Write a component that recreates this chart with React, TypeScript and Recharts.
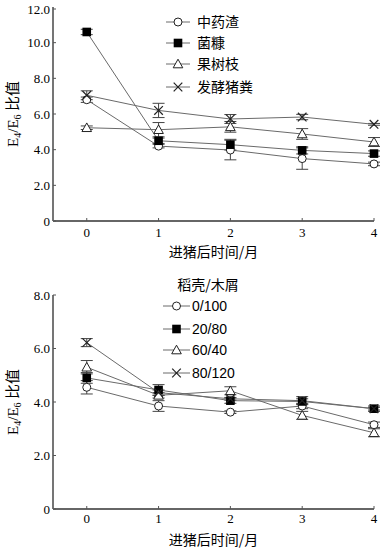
import { ComposedChart, Line, XAxis, YAxis, ErrorBar, Label } from "recharts";

// 进猪后时间（月）
const months = [0, 1, 2, 3, 4];
const monthTicks = [0, 1, 2, 3, 4];

// 上图：不同辅料
const zhongyaozha = [6.8, 4.2, 3.98, 3.5, 3.2];
const zhongyaozhaErr = [0.15, 0.1, 0.55, 0.6, 0.1];
const junkang = [10.6, 4.5, 4.28, 3.96, 3.78];
const junkangErr = [0.15, 0.15, 0.3, 0.2, 0.15];
const guoshuzhi = [5.23, 5.12, 5.28, 4.88, 4.43];
const guoshuzhiErr = [0.1, 0.4, 0.3, 0.3, 0.25];
const fajiaozhufen = [7.05, 6.2, 5.72, 5.83, 5.42];
const fajiaozhufenErr = [0.25, 0.4, 0.25, 0.15, 0.05];
const topTicks = [0, 2, 4, 6, 8, 10, 12];

// 下图：稻壳/木屑 比例
const r0_100 = [4.55, 3.85, 3.62, 3.85, 3.15];
const r0_100Err = [0.25, 0.2, 0.05, 0.1, 0.1];
const r20_80 = [4.9, 4.45, 4.05, 4.02, 3.75];
const r20_80Err = [0.2, 0.2, 0.1, 0.1, 0.1];
const r60_40 = [5.3, 4.25, 4.42, 3.5, 2.85];
const r60_40Err = [0.25, 0.1, 0.15, 0.15, 0.15];
const r80_120 = [6.22, 4.35, 4.12, 4.05, 3.75];
const r80_120Err = [0.15, 0.1, 0.05, 0.15, 0.05];
const bottomTicks = [0, 2, 4, 6, 8];

const SERIF = '"Liberation Serif", "Times New Roman", "Noto Sans CJK SC", serif';
const CJK = '"Noto Sans CJK SC", "Liberation Serif", serif';
const SANS = '"Liberation Sans", Arial, sans-serif';
const AXIS_X = 53;

type Shape = "circle" | "square" | "triangle" | "cross";
type Series = { name: string; shape: Shape; values: number[]; errors: number[] };

const topSeries: Series[] = [
  { name: "中药渣", shape: "circle", values: zhongyaozha, errors: zhongyaozhaErr },
  { name: "菌糠", shape: "square", values: junkang, errors: junkangErr },
  { name: "果树枝", shape: "triangle", values: guoshuzhi, errors: guoshuzhiErr },
  { name: "发酵猪粪", shape: "cross", values: fajiaozhufen, errors: fajiaozhufenErr },
];

const bottomSeries: Series[] = [
  { name: "0/100", shape: "circle", values: r0_100, errors: r0_100Err },
  { name: "20/80", shape: "square", values: r20_80, errors: r20_80Err },
  { name: "60/40", shape: "triangle", values: r60_40, errors: r60_40Err },
  { name: "80/120", shape: "cross", values: r80_120, errors: r80_120Err },
];

function Marker({ cx, cy, shape }: { cx?: number; cy?: number; shape: Shape }) {
  if (cx == null || cy == null) return null;
  const s = 4.3;
  if (shape === "circle")
    return <circle cx={cx} cy={cy} r={s - 0.3} fill="#fff" stroke="#222" strokeWidth={1} />;
  if (shape === "square")
    return <rect x={cx - s} y={cy - s} width={s * 2} height={s * 2} fill="#000" />;
  if (shape === "triangle")
    return (
      <polygon
        points={`${cx},${cy - s - 0.5} ${cx - s - 0.5},${cy + s - 0.5} ${cx + s + 0.5},${cy + s - 0.5}`}
        fill="#fff"
        stroke="#222"
        strokeWidth={1}
      />
    );
  return (
    <g stroke="#222" strokeWidth={1.2}>
      <line x1={cx - s} y1={cy - s} x2={cx + s} y2={cy + s} />
      <line x1={cx - s} y1={cy + s} x2={cx + s} y2={cy - s} />
    </g>
  );
}

function YLabel(props: any) {
  const vb = props.viewBox;
  const cy = vb.y + vb.height / 2;
  return (
    <text
      x={18}
      y={cy}
      transform={`rotate(-90, 18, ${cy})`}
      textAnchor="middle"
      fontSize={15}
      fontFamily={SERIF}
      fill="#000"
    >
      E<tspan fontSize={10} dy={3}>4</tspan>
      <tspan dy={-3}>/E</tspan>
      <tspan fontSize={10} dy={3}>6</tspan>
      <tspan dy={-3} fontFamily={CJK}> 比值</tspan>
    </text>
  );
}

function XLabel(props: any) {
  const vb = props.viewBox;
  return (
    <text
      x={vb.x + vb.width / 2}
      y={vb.y + 36}
      textAnchor="middle"
      fontSize={14}
      fontFamily={CJK}
      fill="#000"
    >
      进猪后时间/月
    </text>
  );
}

function Panel({
  series,
  yMax,
  yTicks,
  height,
  plotTop,
  plotBottom,
  gap,
  children,
}: {
  series: Series[];
  yMax: number;
  yTicks: number[];
  height: number;
  plotTop: number;
  plotBottom: number;
  gap: number;
  children?: React.ReactNode;
}) {
  const data = months.map((m, i) => {
    const row: Record<string, number> = { month: m };
    series.forEach((s, j) => {
      row[`v${j}`] = s.values[i];
      row[`e${j}`] = s.errors[i];
    });
    return row;
  });

  return (
    <div style={{ position: "relative", width: 386, height }}>
      <ComposedChart
        width={386}
        height={height}
        data={data}
        margin={{ top: plotTop, right: 12, left: 0, bottom: 0 }}
      >
        <XAxis
          dataKey="month"
          type="number"
          domain={[-0.47, 4]}
          ticks={monthTicks}
          height={height - plotBottom}
          axisLine={{ stroke: "#666", strokeWidth: 1.8 }}
          tickLine={false}
          tickSize={0}
          tickMargin={gap}
          tick={(p: any) => (
            <g key={`xt-${p.payload.value}`}>
              <line x1={p.x} x2={p.x} y1={p.y - gap} y2={p.y - gap - 3} stroke="#555" />
              <text x={p.x} y={p.y} dy="0.75em" textAnchor="middle" fontSize={13} fontFamily={SERIF} fill="#000">
                {p.payload.value}
              </text>
            </g>
          )}
        >
          <Label content={XLabel} />
        </XAxis>
        <YAxis
          type="number"
          domain={[0, yMax]}
          ticks={yTicks}
          width={AXIS_X}
          axisLine={{ stroke: "#666", strokeWidth: 1.8 }}
          tickLine={false}
          tickSize={0}
          tickMargin={3}
          tick={(p: any) => (
            <g key={`yt-${p.payload.value}`}>
              <line x1={AXIS_X} x2={AXIS_X + 3} y1={p.y} y2={p.y} stroke="#555" />
              <text x={p.x} y={p.y} dy="0.35em" textAnchor="end" fontSize={13} fontFamily={SERIF} fill="#000">
                {p.payload.value === 0 ? "0" : p.payload.value.toFixed(1)}
              </text>
            </g>
          )}
        >
          <Label content={YLabel} />
        </YAxis>
        {series.map((s, j) => (
          <Line
            key={s.name}
            type="linear"
            dataKey={`v${j}`}
            stroke="#6a6a6a"
            strokeWidth={1}
            isAnimationActive={false}
            activeDot={false}
            dot={(p: any) => <Marker key={`${s.name}-${p.index}`} cx={p.cx} cy={p.cy} shape={s.shape} />}
          >
            <ErrorBar dataKey={`e${j}`} width={6} stroke="#444" strokeWidth={1} direction="y" />
          </Line>
        ))}
      </ComposedChart>
      {children}
    </div>
  );
}

function LegendRows({
  series,
  rows,
  x0,
  x1,
  textX,
  font,
}: {
  series: Series[];
  rows: number[];
  x0: number;
  x1: number;
  textX: number;
  font: string;
}) {
  return (
    <>
      {series.map((s, i) => (
        <g key={s.name}>
          <line x1={x0} x2={x1} y1={rows[i]} y2={rows[i]} stroke="#6a6a6a" />
          <Marker cx={(x0 + x1) / 2} cy={rows[i]} shape={s.shape} />
          <text x={textX} y={rows[i]} dy="0.36em" fontSize={14} fontFamily={font} fill="#000">
            {s.name}
          </text>
        </g>
      ))}
    </>
  );
}

const overlay: React.CSSProperties = { position: "absolute", left: 0, top: 0, pointerEvents: "none" };

export default function App() {
  return (
    <div style={{ position: "absolute", left: 0, top: 0, width: 386, height: 551, background: "#fff" }}>
      <Panel series={topSeries} yMax={12} yTicks={topTicks} height={270} plotTop={7} plotBottom={221} gap={6}>
        <svg width={386} height={270} style={overlay}>
          <LegendRows series={topSeries} rows={[22, 43, 64, 87]} x0={166} x1={190} textX={197} font={CJK} />
        </svg>
      </Panel>
      <Panel series={bottomSeries} yMax={8} yTicks={bottomTicks} height={281} plotTop={25} plotBottom={239} gap={4}>
        <svg width={386} height={281} style={overlay}>
          <text x={208} y={15} dy="0.36em" textAnchor="middle" fontSize={14} fontFamily={CJK} fill="#000">
            稻壳/木屑
          </text>
          <LegendRows series={bottomSeries} rows={[36, 59, 80, 103]} x0={163} x1={190} textX={192} font={SANS} />
        </svg>
      </Panel>
    </div>
  );
}
